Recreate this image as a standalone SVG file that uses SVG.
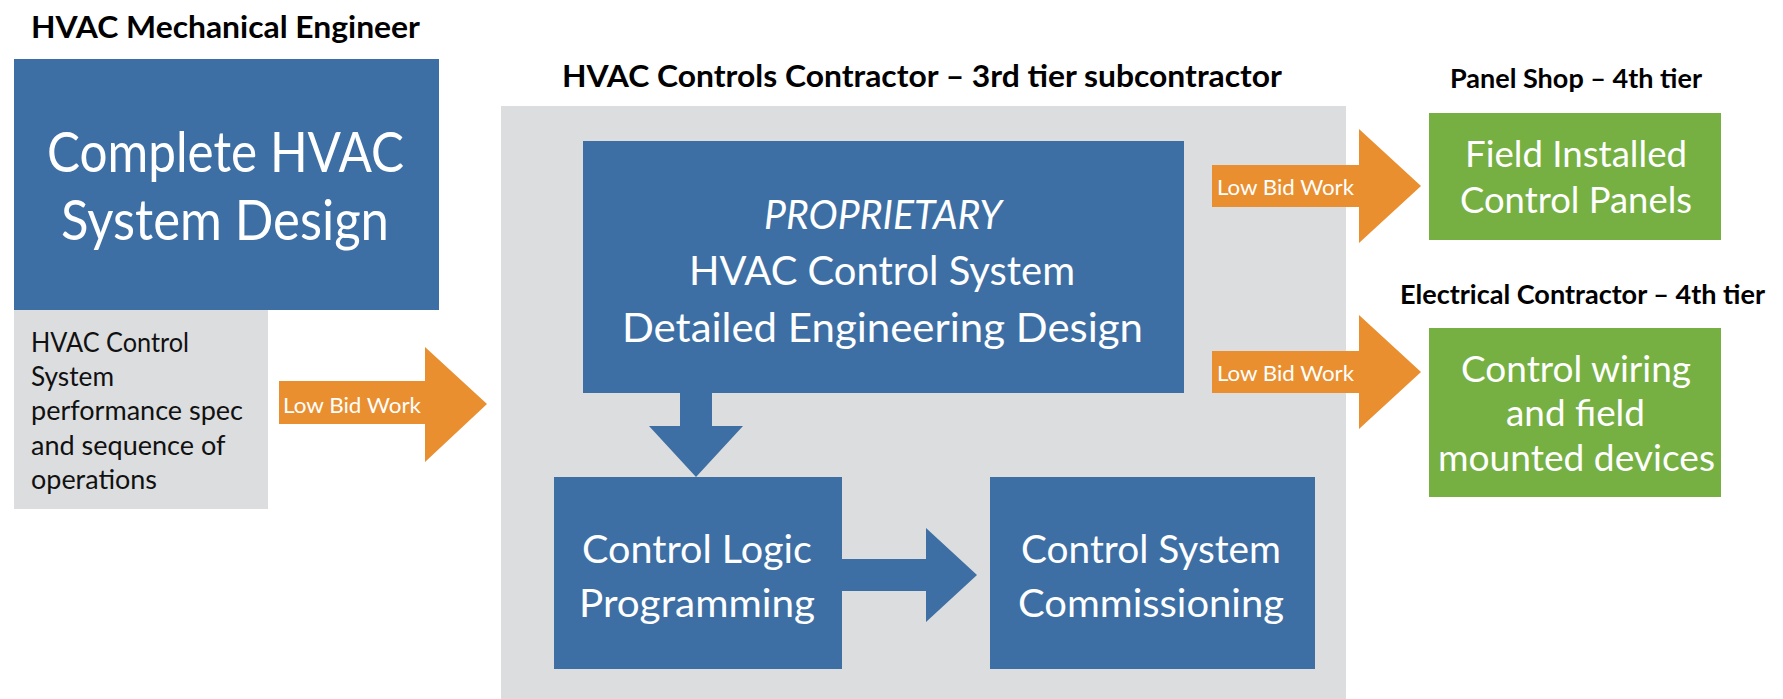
<svg xmlns="http://www.w3.org/2000/svg" width="1783" height="699" viewBox="0 0 1783 699">
<style>
.t{font-family:Lato,"Open Sans","Liberation Sans",sans-serif;}
.title{font-weight:700;fill:#000;}
.w{fill:#fff;}
.k{fill:#111;}
.blue{fill:#3d6fa4;}
.gray{fill:#dcdddf;}
.green{fill:#76b043;}
.orange{fill:#e98f30;}
</style>
<rect width="1783" height="699" fill="#fff"/>

<g id="titles">
<text class="t title" x="31" y="38" font-size="31" textLength="389" lengthAdjust="spacingAndGlyphs">HVAC Mechanical Engineer</text>
<text class="t title" x="562" y="87" font-size="31" textLength="720" lengthAdjust="spacingAndGlyphs">HVAC Controls Contractor – 3rd tier subcontractor</text>
<text class="t title" x="1450" y="88" font-size="26" textLength="252" lengthAdjust="spacingAndGlyphs">Panel Shop – 4th tier</text>
<text class="t title" x="1400" y="304" font-size="27" textLength="365" lengthAdjust="spacingAndGlyphs">Electrical Contractor – 4th tier</text>
</g>

<g id="controls-contractor">
<rect class="gray" x="501" y="106" width="845" height="593"/>
</g>

<g id="complete-design">
<rect class="blue" x="14" y="59" width="425" height="251"/>
<text class="t w" x="47" y="172" font-size="56" textLength="357" lengthAdjust="spacingAndGlyphs">Complete HVAC</text>
<text class="t w" x="61" y="240" font-size="56" textLength="328" lengthAdjust="spacingAndGlyphs">System Design</text>
</g>

<g id="performance-spec">
<rect class="gray" x="14" y="310" width="254" height="199"/>
<text class="t k" font-size="27">
<tspan x="31" y="352" textLength="158" lengthAdjust="spacingAndGlyphs">HVAC Control</tspan>
<tspan x="31" y="386" textLength="83" lengthAdjust="spacingAndGlyphs">System</tspan>
<tspan x="31" y="420" textLength="212" lengthAdjust="spacingAndGlyphs">performance spec</tspan>
<tspan x="31" y="455" textLength="194" lengthAdjust="spacingAndGlyphs">and sequence of</tspan>
<tspan x="31" y="489" textLength="126" lengthAdjust="spacingAndGlyphs">operations</tspan>
</text>
</g>

<g id="detailed-design">
<rect class="blue" x="583" y="141" width="601" height="252"/>
<text class="t w" x="764" y="229" font-size="41" font-style="italic" textLength="238" lengthAdjust="spacingAndGlyphs">PROPRIETARY</text>
<text class="t w" x="689" y="285" font-size="41" textLength="386" lengthAdjust="spacingAndGlyphs">HVAC Control System</text>
<text class="t w" x="622" y="342" font-size="41" textLength="521" lengthAdjust="spacingAndGlyphs">Detailed Engineering Design</text>
</g>

<g id="logic-programming">
<rect class="blue" x="554" y="477" width="288" height="192"/>
<text class="t w" x="582" y="563" font-size="39" textLength="230" lengthAdjust="spacingAndGlyphs">Control Logic</text>
<text class="t w" x="579" y="617" font-size="39" textLength="236" lengthAdjust="spacingAndGlyphs">Programming</text>
</g>

<g id="commissioning">
<rect class="blue" x="990" y="477" width="325" height="192"/>
<text class="t w" x="1021" y="563" font-size="39" textLength="260" lengthAdjust="spacingAndGlyphs">Control System</text>
<text class="t w" x="1018" y="617" font-size="39" textLength="266" lengthAdjust="spacingAndGlyphs">Commissioning</text>
</g>

<g id="control-panels">
<rect class="green" x="1429" y="113" width="292" height="127"/>
<text class="t w" x="1465" y="167" font-size="36" textLength="222" lengthAdjust="spacingAndGlyphs">Field Installed</text>
<text class="t w" x="1460" y="213" font-size="36" textLength="232" lengthAdjust="spacingAndGlyphs">Control Panels</text>
</g>

<g id="field-wiring">
<rect class="green" x="1429" y="328" width="292" height="169"/>
<text class="t w" x="1461" y="382" font-size="36" textLength="230" lengthAdjust="spacingAndGlyphs">Control wiring</text>
<text class="t w" x="1506" y="426" font-size="36" textLength="139" lengthAdjust="spacingAndGlyphs">and field</text>
<text class="t w" x="1438" y="471" font-size="36" textLength="277" lengthAdjust="spacingAndGlyphs">mounted devices</text>
</g>

<g id="connectors">
<polygon class="orange" points="279,381 425,381 425,347 487,404 425,462 425,424 279,424"/>
<text class="t w" x="283" y="413" font-size="21" textLength="138" lengthAdjust="spacingAndGlyphs">Low Bid Work</text>
<polygon class="orange" points="1212,165 1359,165 1359,129 1421,186 1359,243 1359,207 1212,207"/>
<text class="t w" x="1217" y="195" font-size="21" textLength="137" lengthAdjust="spacingAndGlyphs">Low Bid Work</text>
<polygon class="orange" points="1212,351 1359,351 1359,315 1421,372 1359,429 1359,393 1212,393"/>
<text class="t w" x="1217" y="381" font-size="21" textLength="137" lengthAdjust="spacingAndGlyphs">Low Bid Work</text>
<polygon class="blue" points="680,393 712,393 712,426 743,426 696,477 649,426 680,426"/>
<polygon class="blue" points="842,559 926,559 926,528 977,575 926,622 926,591 842,591"/>
</g>
</svg>
